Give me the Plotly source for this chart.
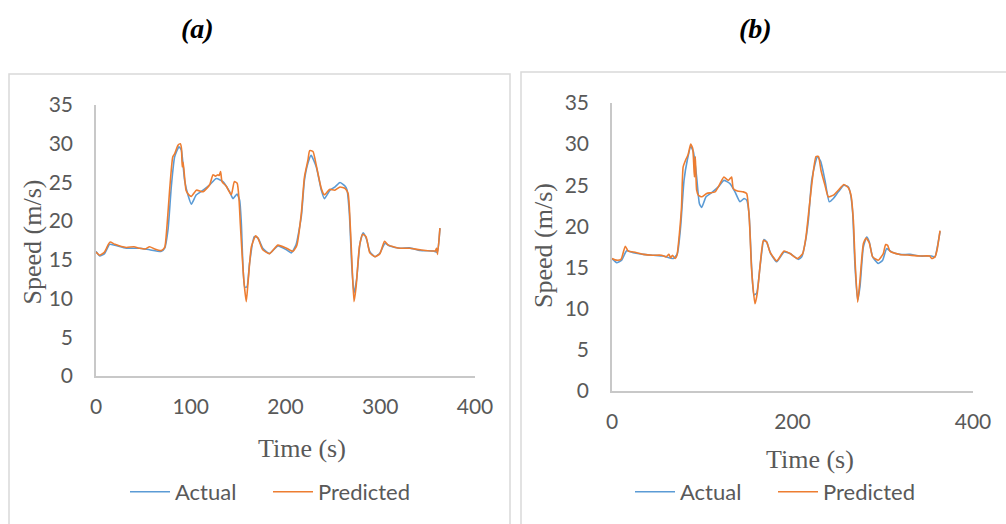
import plotly.graph_objects as go

W, H = 1006, 524

# ---------------- Data: panel (a) ----------------
a_act_t = [0, 4, 9, 14.4, 19.7, 32, 46, 56.6, 69, 72.5, 76, 79.5, 83, 87.6, 90, 93.5, 97, 100.6,
           105.9, 113, 120, 127, 134, 141, 144.6, 148.8, 151.6, 153.4, 157, 159.3, 162, 167, 171,
           176, 183, 192, 201, 206, 211, 216.7, 220, 223.7, 227, 232.5, 237.8, 241, 247, 252,
           257.5, 263, 265, 267.4, 270, 272.3, 275, 278.6, 282, 285.7, 289, 294.5, 299.7, 305,
           310, 321, 331, 342, 356, 360, 363]
a_act_v = [16.1, 15.5, 15.8, 17.0, 16.9, 16.5, 16.5, 16.3, 16.1, 16.5, 18.9, 24.5, 28.3, 29.6,
           29.2, 25.3, 23.4, 22.2, 23.4, 24.0, 24.7, 25.5, 25.1, 23.8, 22.9, 23.5, 22.7, 19.7,
           11.5, 11.5, 14.5, 18.0, 17.8, 16.5, 15.8, 16.8, 16.3, 15.9, 16.9, 20.6, 25.3, 27.5,
           28.5, 27.0, 24.0, 22.9, 24.0, 24.4, 25.0, 24.5, 24.0, 21.0, 14.1, 10.7, 12.4, 17.1,
           18.5, 17.6, 16.05, 15.4, 15.9, 17.1, 16.8, 16.5, 16.55, 16.2, 16.15, 16.0, 19.1]

a_pred_t = [0, 4, 9, 13, 15, 20, 32, 40, 46, 52, 56.6, 62, 69, 72.5, 75, 77.7, 81, 83, 86.5, 89,
            90.2, 91, 92, 95, 98, 100.6, 106, 113, 120, 123.5, 126, 128.7, 130, 131.5, 133, 137.5,
            142.8, 146, 149, 151, 152.3, 156, 158.6, 160.4, 164, 168.5, 171, 176, 183, 192, 201,
            208, 212, 216.7, 220, 223.7, 225.5, 229, 232.5, 237.8, 241, 246.5, 252, 257.5, 263,
            266, 267.4, 270, 272.3, 274.5, 278, 281.5, 285, 289, 294.5, 299.7, 304.5, 308.5, 321,
            331, 342, 358, 359.5, 360.5, 363]
a_pred_v = [16.0, 15.6, 16.0, 17.0, 17.3, 17.0, 16.6, 16.7, 16.5, 16.4, 16.7, 16.4, 16.2, 16.6,
            19.5, 24.0, 28.3, 28.7, 29.8, 30.0, 29.4, 27.0, 27.6, 24.0, 23.4, 23.2, 24.0, 23.8,
            24.7, 26.0, 25.8, 26.0, 25.9, 26.4, 25.1, 24.5, 23.4, 25.1, 24.9, 22.7, 19.7, 12.4,
            9.6, 12.0, 16.7, 18.1, 17.8, 16.3, 15.8, 16.9, 16.5, 16.1, 16.9, 21.0, 25.7, 27.9,
            29.1, 29.0, 27.2, 24.2, 23.4, 24.1, 24.0, 24.4, 24.2, 23.6, 21.8, 15.0, 9.6, 11.5,
            16.7, 18.3, 18.0, 15.9, 15.4, 15.8, 17.4, 16.9, 16.5, 16.5, 16.3, 16.15, 16.5, 15.7,
            19.1]

# ---------------- Data: panel (b) ----------------
b_act_t = [0, 5.2, 10.7, 16.3, 23.6, 34.7, 45.8, 56.9, 68, 72.4, 76, 79.8, 83.5, 87.2, 90.1, 93.8,
           96.8, 99.4, 104.2, 110.4, 117.8, 124, 130.7, 136.3, 141.8, 146.3, 149.2, 151.8, 154.7,
           157.3, 160.3, 164, 168.4, 171.4, 175.8, 182.5, 190.6, 197.3, 206.5, 210.2, 213.9,
           217.6, 221.3, 225, 227.5, 231.2, 236, 240.8, 245.3, 250.8, 257, 261.9, 264.5, 266.7,
           269.3, 272.2, 274.8, 278.5, 282.2, 285.1, 288.8, 295.1, 299.9, 304.3, 309.9, 319.1,
           330.2, 341.3, 354.2, 357.9, 360.5, 363.5]
b_act_v = [16.1, 15.6, 15.9, 17.05, 16.8, 16.6, 16.5, 16.4, 16.1, 16.7, 19.9, 25.6, 28.1, 29.7,
           29.1, 26.0, 22.8, 22.3, 23.6, 24.1, 24.8, 25.6, 25.2, 24.2, 23.0, 23.4, 23.2, 21.6,
           15.1, 11.7, 11.9, 15.1, 18.4, 18.1, 16.7, 15.7, 16.9, 16.7, 16.0, 16.3, 17.9, 20.8,
           25.6, 27.6, 28.5, 27.9, 25.6, 23.0, 23.4, 24.2, 25.0, 24.8, 23.8, 21.6, 15.1, 11.0,
           12.7, 17.5, 18.7, 18.1, 16.3, 15.5, 15.9, 17.3, 16.9, 16.6, 16.6, 16.4, 16.4, 16.3,
           17.5, 19.4]

b_pred_t = [0, 5, 10, 14.7, 18, 24, 35, 45, 55, 60, 63, 65, 67, 70, 72, 75, 77, 78.8, 81.7,
            84.3, 87.2, 89.4, 91.3, 92.3, 93.8, 95.7, 99.4, 104.9, 114.1, 119.7, 124, 128.9,
            131.5, 132.6, 134.4, 138.9, 145.5, 149.2, 152.2, 154.7, 158.4, 161, 164.7, 167.7,
            171.4, 175, 182.5, 190.6, 197.3, 205.4, 211.3, 214.9, 218.6, 222.3, 226, 228.7,
            231.6, 236, 239.7, 245.3, 250.8, 257, 261.9, 264.8, 267.4, 269.3, 272.2, 274.8,
            278.5, 281.5, 285.1, 288.8, 295.1, 300.6, 303.2, 305.4, 308, 319, 330, 341, 352,
            354.2, 357.9, 360.1, 363.5]
b_pred_v = [16.1, 15.9, 16.0, 17.6, 17.0, 16.9, 16.6, 16.5, 16.5, 16.3, 16.6, 16.2, 16.5, 16.1,
            16.5, 19.5, 22.3, 27.2, 28.1, 28.7, 30.0, 29.5, 26.0, 28.5, 24.4, 23.8, 23.6, 24.0,
            24.2, 25.2, 26.0, 25.6, 25.9, 26.0, 24.6, 24.3, 24.2, 24.0, 20.8, 14.7, 10.6, 11.9,
            15.9, 18.3, 18.1, 16.9, 15.8, 17.0, 16.7, 16.1, 16.7, 18.7, 22.4, 26.0, 28.5, 28.5,
            26.8, 25.0, 23.6, 23.8, 24.4, 25.1, 24.7, 23.8, 20.8, 15.9, 10.8, 13.5, 17.9, 18.6,
            18.0, 16.3, 15.9, 16.7, 17.8, 17.7, 17.0, 16.6, 16.5, 16.4, 16.4, 16.1, 16.3, 17.1,
            19.5]

series_names = ["Actual", "Predicted"]
series_colors = ["#5B9BD5", "#ED7D31"]

a_xticks = [0, 100, 200, 300, 400]
b_xticks = [0, 200, 400]
yticks = [0, 5, 10, 15, 20, 25, 30, 35]


def px_x(x):
    return x / W


def px_y(y):
    return 1 - y / H


tick_font = dict(family="Lato, Carlito, Calibri, sans-serif", size=21, color="#595959")
legend_font = dict(family="Lato, Carlito, Calibri, sans-serif", size=22, color="#595959")
serif = "Liberation Serif, Times New Roman, serif"

fig = go.Figure()

panels = [
    ("x", "y", "legend", a_act_t, a_act_v, a_pred_t, a_pred_v),
    ("x2", "y2", "legend2", b_act_t, b_act_v, b_pred_t, b_pred_v),
]
for xa, ya, lg, at, av, pt, pv in panels:
    for name, color, t, v in zip(series_names, series_colors, [at, pt], [av, pv]):
        fig.add_trace(go.Scatter(
            x=t, y=v, mode="lines", name=name, xaxis=xa, yaxis=ya, legend=lg,
            line=dict(color=color, width=1.6, shape="spline", smoothing=0.5),
        ))

axis_common = dict(showline=True, linecolor="#c8c8c8", linewidth=1.5, showgrid=False,
                   zeroline=False, ticks="", tickfont=tick_font, fixedrange=True,
                   automargin=False)

legend_common = dict(orientation="h", yanchor="middle", xanchor="left",
                     font=legend_font, bgcolor="rgba(0,0,0,0)", itemwidth=40,
                     entrywidth=88, entrywidthmode="pixels")

fig.update_layout(
    width=W, height=H,
    margin=dict(l=0, r=0, t=0, b=0, pad=0, autoexpand=False),
    paper_bgcolor="white", plot_bgcolor="white",
    showlegend=True,
    xaxis=dict(domain=[px_x(96), px_x(475)], range=[0, 400], tickvals=a_xticks,
               anchor="y", ticklabelstandoff=11, **axis_common),
    yaxis=dict(domain=[px_y(376), px_y(105)], range=[0, 35], tickvals=yticks,
               anchor="x", ticklabelstandoff=17, **axis_common),
    xaxis2=dict(domain=[px_x(612), px_x(973)], range=[0, 400], tickvals=b_xticks,
                anchor="y2", ticklabelstandoff=11, **axis_common),
    yaxis2=dict(domain=[px_y(391), px_y(103)], range=[0, 35], tickvals=yticks,
                anchor="x2", ticklabelstandoff=17, **axis_common),
    legend=dict(x=px_x(125), y=px_y(492), **legend_common),
    legend2=dict(x=px_x(630), y=px_y(492), **legend_common),
)

# panel frames
fig.add_shape(type="rect", xref="paper", yref="paper", x0=px_x(9), x1=px_x(510),
              y0=px_y(540), y1=px_y(74), line=dict(color="#d9d9d9", width=1.5),
              fillcolor="rgba(0,0,0,0)", layer="below")
fig.add_shape(type="rect", xref="paper", yref="paper", x0=px_x(521), x1=px_x(1020),
              y0=px_y(540), y1=px_y(72), line=dict(color="#d9d9d9", width=1.5),
              fillcolor="rgba(0,0,0,0)", layer="below")

# panel labels
for txt, xp in (("<b><i>(a)</i></b>", 197), ("<b><i>(b)</i></b>", 755)):
    fig.add_annotation(text=txt, x=px_x(xp), y=px_y(29), xref="paper", yref="paper",
                       showarrow=False, xanchor="center", yanchor="middle",
                       font=dict(family=serif, size=28, color="black"))

title_font = dict(family=serif, size=26, color="#595959")
titles = [
    ("Speed (m/s)", 31.5, 242, -90),
    ("Speed (m/s)", 544, 246, -90),
    ("Time (s)", 302, 448, 0),
    ("Time (s)", 810, 459, 0),
]
for txt, xp, yp, ang in titles:
    fig.add_annotation(text=txt, x=px_x(xp), y=px_y(yp), xref="paper", yref="paper",
                       xanchor="center", yanchor="middle", textangle=ang,
                       showarrow=False, font=title_font)

fig.write_html("out.html")
